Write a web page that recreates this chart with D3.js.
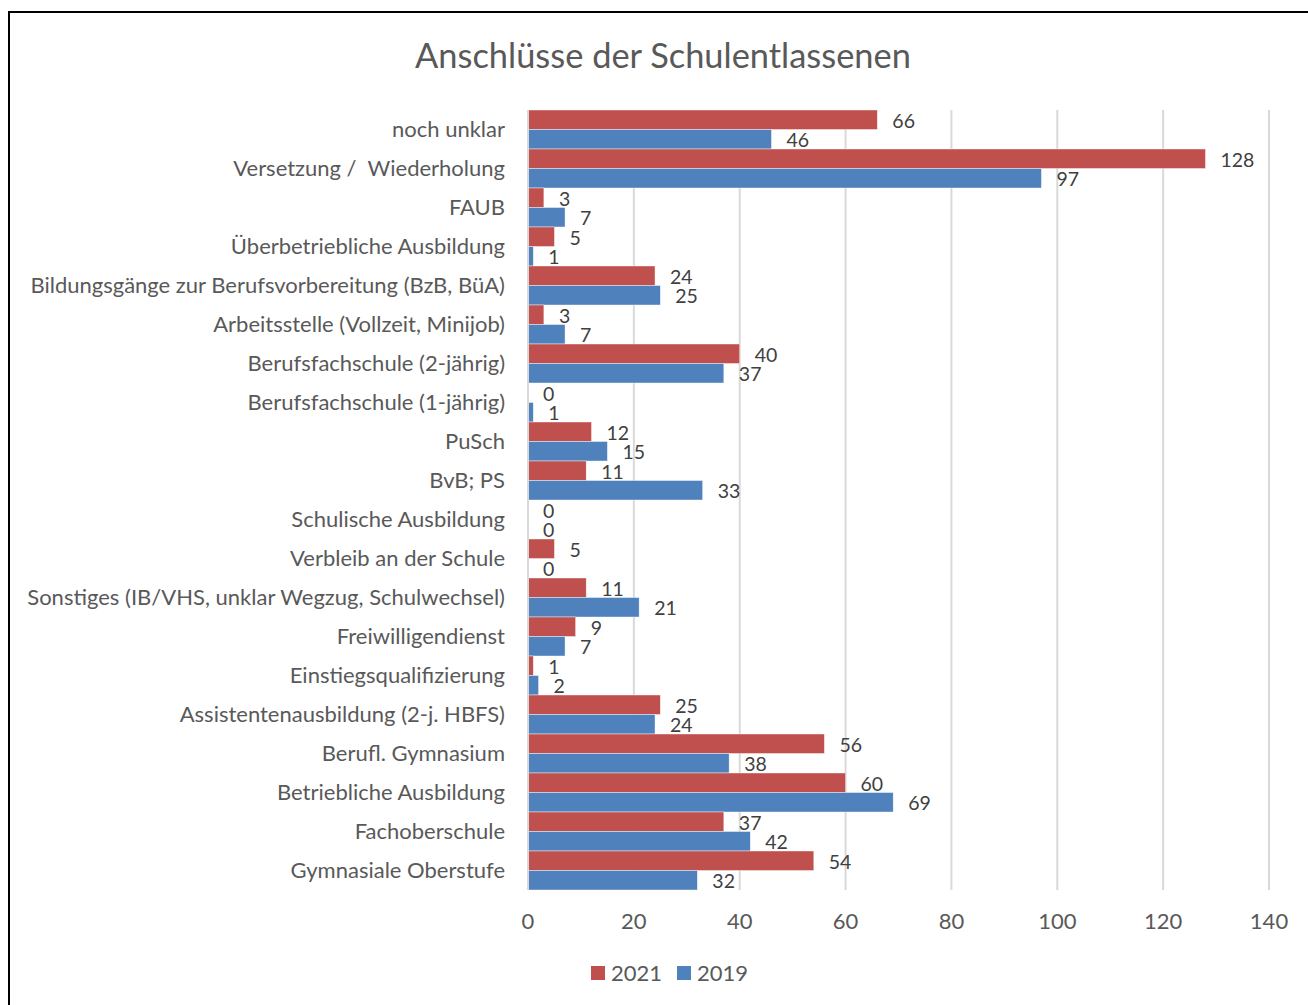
<!DOCTYPE html>
<html><head><meta charset="utf-8">
<script src="https://cdn.jsdelivr.net/npm/d3@7"></script>
<style>body{margin:0;background:#fff}svg{display:block}text{font-family:Lato,"Open Sans",sans-serif;white-space:pre}</style>
</head><body>
<svg id="c" width="1308" height="1005"></svg>
<script>
const categories = ["noch unklar","Versetzung /  Wiederholung","FAUB","Überbetriebliche Ausbildung","Bildungsgänge zur Berufsvorbereitung (BzB, BüA)","Arbeitsstelle (Vollzeit, Minijob)","Berufsfachschule (2-jährig)","Berufsfachschule (1-jährig)","PuSch","BvB; PS","Schulische Ausbildung","Verbleib an der Schule","Sonstiges (IB/VHS, unklar Wegzug, Schulwechsel)","Freiwilligendienst","Einstiegsqualifizierung","Assistentenausbildung (2-j. HBFS)","Berufl. Gymnasium","Betriebliche Ausbildung","Fachoberschule","Gymnasiale Oberstufe"];
const values2021 = [66,128,3,5,24,3,40,0,12,11,0,5,11,9,1,25,56,60,37,54];
const values2019 = [46,97,7,1,25,7,37,1,15,33,0,0,21,7,2,24,38,69,42,32];
const seriesNames = ["2021","2019"];
const seriesColors = ["#C0504D","#4F81BD"];
const xTicks = [0,20,40,60,80,100,120,140];
const title = "Anschlüsse der Schulentlassenen";

const svg = d3.select("#c");
// border
svg.append("rect").attr("x",9).attr("y",12).attr("width",1400).attr("height",1100)
  .attr("fill","none").attr("stroke","#000").attr("stroke-width",2);

const x = d3.scaleLinear().domain([0,140]).range([528,1269]);
const y = d3.scaleBand().domain(categories).range([110,890]).paddingInner(0).paddingOuter(0);
const sub = d3.scaleBand().domain(seriesNames).range([0,y.bandwidth()]);

// gridlines
svg.append("g").selectAll("line").data(xTicks).join("line")
  .attr("x1",d=>x(d)).attr("x2",d=>x(d)).attr("y1",110).attr("y2",890)
  .attr("stroke","#D9D9D9").attr("stroke-width",2);

const data = categories.map((c,i)=>({c, vals:[values2021[i],values2019[i]]}));
const g = svg.append("g");
data.forEach(d=>{
  d.vals.forEach((v,k)=>{
    const yy = y(d.c)+sub(seriesNames[k]);
    g.append("rect").attr("x",x(0)).attr("y",yy).attr("width",x(v)-x(0)).attr("height",sub.bandwidth())
      .attr("fill",seriesColors[k]).attr("stroke","#fff").attr("stroke-width",0.6).attr("stroke-opacity",0.7);
    g.append("text").attr("x",x(v)+15).attr("y",yy+sub.bandwidth()/2+1).attr("dy","0.35em")
      .attr("font-size",19.5).attr("fill","#404040").text(v);
  });
});

// axis baseline
svg.append("line").attr("x1",x(0)).attr("x2",x(0)).attr("y1",110).attr("y2",890).attr("stroke","#D9D9D9").attr("stroke-width",2);

// category labels
const cl = svg.append("g").selectAll("text").data(categories).join("text")
  .attr("x",505).attr("y",d=>y(d)+y.bandwidth()/2).attr("dy","0.35em").attr("text-anchor","end")
  .attr("font-size",20).attr("fill","#595959").text(d=>d);
// fit longest label to measured width
let maxW = 0; cl.each(function(){maxW=Math.max(maxW,this.getComputedTextLength());});
const fs = 20*478/maxW;
cl.attr("font-size",fs);

// x tick labels
svg.append("g").selectAll("text").data(xTicks).join("text")
  .attr("x",d=>x(d)).attr("y",921).attr("dy","0.35em").attr("text-anchor","middle")
  .attr("font-size",fs).attr("fill","#595959").text(d=>d);

// title
const t = svg.append("text").attr("x",663).attr("y",56).attr("dy","0.35em").attr("text-anchor","middle")
  .attr("font-size",32).attr("fill","#595959").text(title);
const tw = t.node().getComputedTextLength();
t.attr("font-size",32*496/tw);

// legend
const lg = svg.append("g");
const lx = [591,677];
seriesNames.forEach((s,k)=>{
  lg.append("rect").attr("x",lx[k]).attr("y",966).attr("width",14).attr("height",14).attr("fill",seriesColors[k]);
  lg.append("text").attr("x",lx[k]+20).attr("y",973).attr("dy","0.35em").attr("font-size",fs).attr("fill","#595959").text(s);
});
</script>
</body></html>
